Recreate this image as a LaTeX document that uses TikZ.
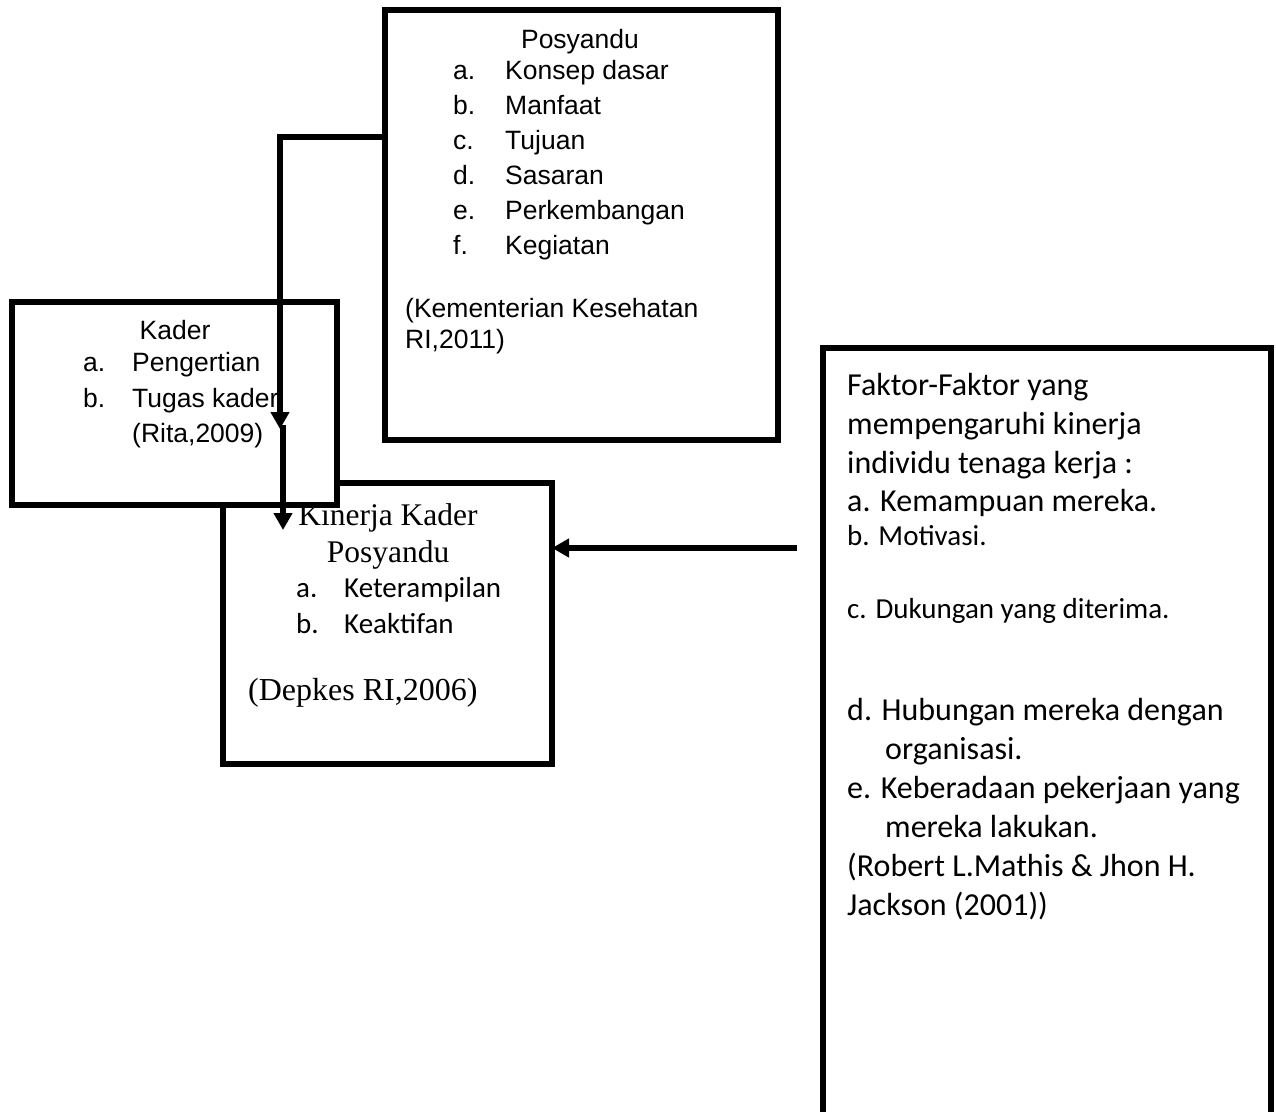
\documentclass[tikz,border=0pt]{standalone}
\usepackage{fontspec}
\setmainfont{Liberation Sans}
\newfontfamily\timesfont{Liberation Serif}
\newfontfamily\calibrifont{Carlito}
\usetikzlibrary{arrows.meta}

\begin{document}
\begin{tikzpicture}[x=1pt, y=-1pt, line join=miter,
  box/.style={draw, line width=5.7pt, fill=white, inner sep=0pt, outer sep=0pt, anchor=north west},
  txt/.style={inner sep=0pt, anchor=base west},
  ctxt/.style={inner sep=0pt, anchor=base},
  arial/.style={font=\fontsize{26.5pt}{35pt}\selectfont},
  times/.style={font=\timesfont\fontsize{31.5pt}{37pt}\selectfont},
  calbig/.style={font=\calibrifont\fontsize{32pt}{39pt}\selectfont},
  calsmall/.style={font=\calibrifont\fontsize{29pt}{36pt}\selectfont},
  flow/.style={line width=5.7pt, -{Triangle[length=17pt,width=18pt]}}]
  \useasboundingbox (0,0) rectangle (1276,1111);
  \clip (0,0) rectangle (1276,1111);

  % Boxes; the Kader box sits on top of the Kinerja box.
  \node[box, minimum width=393pt, minimum height=430pt] (posy) at (385,10) {};
  \node[box, minimum width=329pt, minimum height=281pt] (kinerja) at (223,483) {};
  \node[box, minimum width=325pt, minimum height=203pt] (kader) at (12,302) {};
  \node[box, minimum width=448pt, minimum height=790pt] (faktor) at (823,348) {};

  % Posyandu.
  \node[ctxt, arial] (posyT) at (580,48) {Posyandu};
  \foreach \lbl/\entry [count=\i] in {a./Konsep dasar, b./Manfaat, c./Tujuan,
      d./Sasaran, e./Perkembangan, f./Kegiatan} {
    \node[txt, arial] (posyL\i) at (453,44+35*\i) {\lbl};
    \node[txt, arial] (posyE\i) at (505,44+35*\i) {\entry};
  }
  \node[txt, arial] (posyS1) at (405,317) {(Kementerian Kesehatan};
  \node[txt, arial] (posyS2) at (405,348) {RI,2011)};

  % Kader.
  \node[ctxt, arial] (kaderT) at (175,339) {Kader};
  \foreach \lbl/\entry [count=\i] in {a./Pengertian, b./Tugas kader} {
    \node[txt, arial] (kaderL\i) at (83,335+36*\i) {\lbl};
    \node[txt, arial] (kaderE\i) at (132,335+36*\i) {\entry};
  }
  \node[txt, arial] (kaderS) at (132,442) {(Rita,2009)};

  % Kinerja Kader Posyandu.
  \node[ctxt, times] (kinT1) at (388,525) {Kinerja Kader};
  \node[ctxt, times] (kinT2) at (388,562) {Posyandu};
  \foreach \lbl/\entry [count=\i] in {a./Keterampilan, b./Keaktifan} {
    \node[txt, calsmall] (kinL\i) at (296,561+36*\i) {\lbl};
    \node[txt, calsmall] (kinE\i) at (344,561+36*\i) {\entry};
  }
  \node[txt, font=\timesfont\fontsize{32pt}{38pt}\selectfont] (kinS) at (248,700) {(Depkes RI,2006)};

  % Faktor-faktor.
  \node[txt, calbig] (fak1) at (847,395) {Faktor-Faktor yang};
  \node[txt, calbig] (fak2) at (847,434) {mempengaruhi kinerja};
  \node[txt, calbig] (fak3) at (847,473) {individu tenaga kerja :};
  \node[txt, calbig] (fak4) at (847,511) {a. Kemampuan mereka.};
  \node[txt, calsmall] (fak5) at (847,545) {b. Motivasi.};
  \node[txt, calsmall] (fak6) at (847,618) {c. Dukungan yang diterima.};
  \node[txt, calbig] (fak7) at (847,720) {d. Hubungan mereka dengan};
  \node[txt, calbig] (fak8) at (885,759) {organisasi.};
  \node[txt, calbig] (fak9) at (847,798) {e. Keberadaan pekerjaan yang};
  \node[txt, calbig] (fak10) at (885,837) {mereka lakukan.};
  \node[txt, calbig] (fak11) at (847,876) {(Robert L.Mathis \& Jhon H.};
  \node[txt, calbig] (fak12) at (847,915) {Jackson (2001))};

  % Arrows.
  \coordinate (bend) at (280,137);
  \coordinate (kaderin) at (280,429);
  \coordinate (kaderout) at (283,425);
  \coordinate (kinin) at (283,530);
  \coordinate (faktorout) at (797,548);
  \draw[flow] (posy.west |- bend) -- (bend) -- (kaderin);
  \draw[flow] (kaderout) -- (kinin);
  \draw[flow] (faktorout) -- (kinerja.east |- faktorout);
\end{tikzpicture}
\end{document}
